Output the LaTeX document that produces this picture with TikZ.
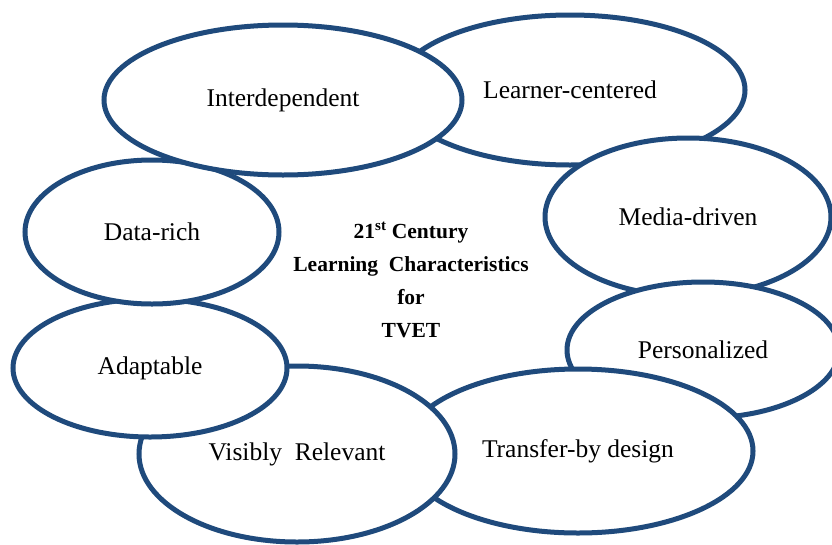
\documentclass[tikz,border=0pt]{standalone}
\usepackage{fontspec}
\setmainfont{Liberation Serif}
\usetikzlibrary{shapes.geometric}
\definecolor{ringblue}{HTML}{1F4A7C}
\tikzset{
  bubble/.style={ellipse, draw=ringblue, line width=5pt, fill=white, inner sep=0pt,
    font=\fontsize{25.5}{30}\selectfont, text=black},
  centertext/.style={align=center, font=\fontsize{21.5}{33}\selectfont\bfseries, text=black}
}
\begin{document}
\begin{tikzpicture}[x=1pt,y=-1pt]
\useasboundingbox (0,0) rectangle (832,544);
\clip (0,0) rectangle (832,544);
\fill[white] (0,0) rectangle (832,544);
\node[bubble, minimum width=350pt, minimum height=150pt] (lc) at (570,90) {Learner-centered};
\node[bubble, minimum width=286pt, minimum height=158pt] (md) at (688,217) {Media-driven};
\node[bubble, minimum width=272pt, minimum height=136pt] (pe) at (703,350) {Personalized};
\node[bubble, minimum width=350pt, minimum height=164pt] (tb) at (578,451) {Transfer-by design};
\node[bubble, minimum width=316pt, minimum height=176pt] (vr) at (297,454) {Visibly\ \ Relevant};
\node[bubble, minimum width=274pt, minimum height=138pt] (ad) at (150,368) {Adaptable};
\node[bubble, minimum width=254pt, minimum height=144pt] (dr) at (152,232) {Data-rich};
\node[bubble, minimum width=358pt, minimum height=150pt] (id) at (283,100) {Interdependent};
\node[centertext] (ct) at (411,280) {21\textsuperscript{st} Century\\Learning\ \ Characteristics\\for\\TVET};
\end{tikzpicture}
\end{document}
